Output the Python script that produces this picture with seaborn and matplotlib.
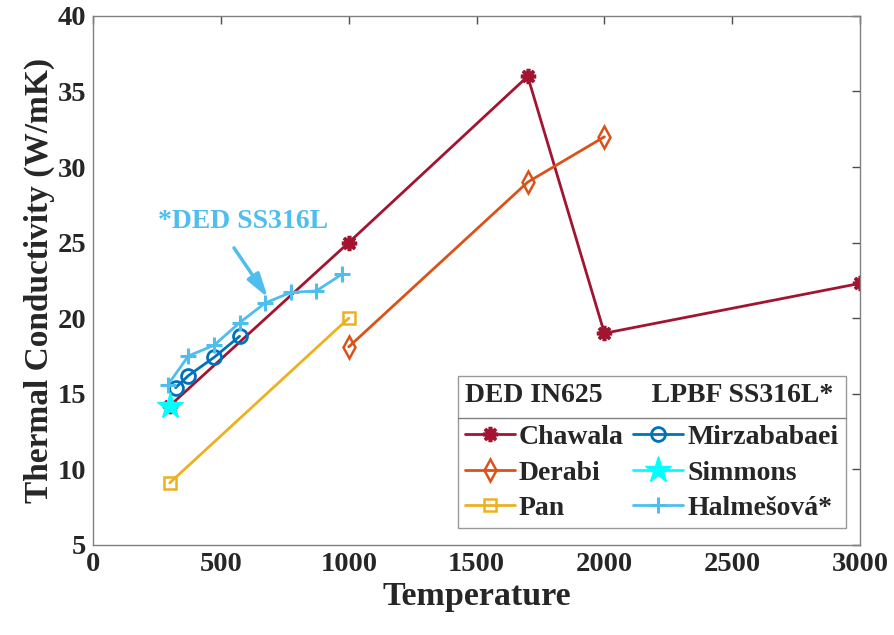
import matplotlib
matplotlib.use("Agg")
import matplotlib.pyplot as plt
import seaborn as sns
import pandas as pd
from matplotlib.lines import Line2D

sns.set_theme(style="white")
plt.rcParams['font.family'] = ['Liberation Serif', 'DejaVu Serif']
plt.rcParams['font.weight'] = 'bold'

# Data
chawala_T = [300, 1000, 1700, 2000, 3000]
chawala_k = [14.2, 25.0, 36.0, 19.0, 22.3]
derabi_T = [1000, 1700, 2000]
derabi_k = [18.1, 29.0, 32.0]
pan_T = [300, 1000]
pan_k = [9.1, 20.0]
mirza_T = [323, 373, 473, 573]
mirza_k = [15.4, 16.2, 17.4, 18.8]
simmons_T = [300]
simmons_k = [14.2]
halm_T = [293, 373, 473, 573, 673, 773, 873, 973]
halm_k = [15.6, 17.5, 18.2, 19.7, 21.0, 21.7, 21.8, 22.9]

xticks = [0, 500, 1000, 1500, 2000, 2500, 3000]
yticks = [5, 10, 15, 20, 25, 30, 35, 40]

series = [
    ("Chawala", chawala_T, chawala_k, "#A2142F", dict(marker=(8, 2, 0), markersize=11, markeredgewidth=2.6, markerfacecolor="#A2142F")),
    ("Derabi", derabi_T, derabi_k, "#D95319", dict(marker="d", markersize=11, markeredgewidth=1.8, markerfacecolor="none")),
    ("Pan", pan_T, pan_k, "#EDB120", dict(marker="s", markersize=8, markeredgewidth=1.8, markerfacecolor="none")),
    ("Mirzababaei", mirza_T, mirza_k, "#0072BD", dict(marker="o", markersize=10, markeredgewidth=2.0, markerfacecolor="none")),
    ("Simmons", simmons_T, simmons_k, "#00FFFF", dict(marker="*", markersize=20, markeredgewidth=1.0, markerfacecolor="#00FFFF")),
    ("Halmešová*", halm_T, halm_k, "#4DBEEE", dict(marker="+", markersize=12, markeredgewidth=2.2)),
]

fig = plt.figure(figsize=(8.95, 6.35), dpi=100)
ax = fig.add_axes([0.104, 0.142, 0.857, 0.833])

handles = []
for name, T, k, col, mk in series:
    df = pd.DataFrame({"T": T, "k": k})
    sns.lineplot(data=df, x="T", y="k", ax=ax, color=col, linewidth=2.0,
                 estimator=None, sort=False, markeredgecolor=col, **mk)
    handles.append(Line2D([], [], color=col, linewidth=2.0, markeredgecolor=col, label=name, **mk))

ax.set_xlim(0, 3000)
ax.set_ylim(5, 40)
ax.set_xticks(xticks)
ax.set_yticks(yticks)
ax.tick_params(axis="both", which="both", direction="in", top=True, right=True,
               labelsize=20.5, length=6, width=1, color="#4d4d4d", labelcolor="#262626", pad=5)
for lab in ax.get_xticklabels() + ax.get_yticklabels():
    lab.set_fontweight("bold")
for sp in ax.spines.values():
    sp.set_color("#808080")
    sp.set_linewidth(1.0)
ax.set_xlabel("Temperature", fontsize=24.5, fontweight="bold", color="#262626", labelpad=3)
ax.set_ylabel("Thermal Conductivity (W/mK)", fontsize=24, fontweight="bold", color="#262626", labelpad=2)

# annotation
ax.annotate("", xy=(690, 21.2), xytext=(545, 24.8),
            arrowprops=dict(arrowstyle="-|>,head_length=1.2,head_width=0.35", color="#4DBEEE", lw=2.5))
ax.text(255, 26.4, "*DED SS316L", color="#4DBEEE", fontsize=20, fontweight="bold",
        ha="left", va="center")

leg = ax.legend(handles=handles, ncol=2, loc="lower right", bbox_to_anchor=(0.981, 0.032),
                title="DED IN625       LPBF SS316L*", alignment="left",
                title_fontproperties=dict(size=20, weight="bold"),
                prop=dict(size=20, weight="bold"), handlelength=1.8, handletextpad=0.15,
                columnspacing=0.35, labelspacing=0.36, frameon=True, fancybox=False,
                edgecolor="#808080", borderpad=0.25, borderaxespad=0.0)
leg.get_frame().set_linewidth(1.0)
leg._legend_box.sep = leg._legend_box.sep + 5

fig.canvas.draw()
r = fig.canvas.get_renderer()
tb = leg.get_title().get_window_extent(r)
lb = leg.get_frame().get_window_extent(r)
inv = fig.transFigure.inverted()
(x0, y0) = inv.transform((lb.x0, tb.y0 - 10))
(x1, _) = inv.transform((lb.x1, tb.y0 - 10))
fig.add_artist(Line2D([x0, x1], [y0, y0], color="#808080", lw=1.0, transform=fig.transFigure))

fig.savefig("out.png", dpi=100)
